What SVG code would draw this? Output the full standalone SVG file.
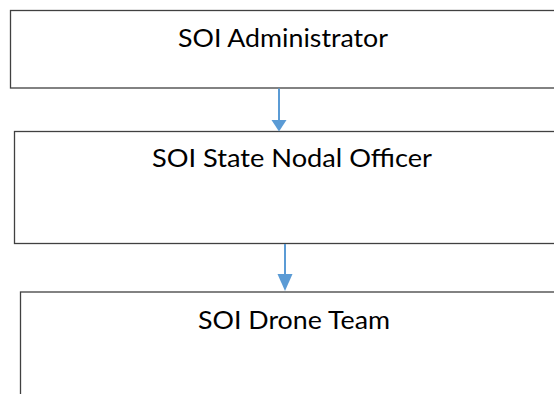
<svg xmlns="http://www.w3.org/2000/svg" width="554" height="394" viewBox="0 0 554 394">
<style>
.box{fill:#ffffff;stroke:#404040;stroke-width:1.3}
.lbl{font-family:Lato,"Open Sans","Liberation Sans",sans-serif;font-size:25px;fill:#000000;text-anchor:middle}
.conn{stroke:#5B9BD5;stroke-width:2;fill:none}
.head{fill:#5B9BD5}
</style>
<rect x="0" y="0" width="554" height="394" fill="#ffffff"/>
<g id="node-admin">
<rect class="box" x="10.5" y="10.5" width="560" height="77.5"/>
<text class="lbl" x="283" y="47" textLength="210" lengthAdjust="spacingAndGlyphs">SOI Administrator</text>
</g>
<g id="node-nodal">
<rect class="box" x="14.5" y="131.5" width="560" height="112"/>
<text class="lbl" x="292" y="167" textLength="280" lengthAdjust="spacingAndGlyphs">SOI State Nodal Officer</text>
</g>
<g id="node-drone">
<rect class="box" x="20.5" y="292" width="560" height="140"/>
<text class="lbl" x="294" y="329" textLength="192" lengthAdjust="spacingAndGlyphs">SOI Drone Team</text>
</g>
<g id="connectors">
<line class="conn" x1="279" y1="88.5" x2="279" y2="120"/>
<polygon class="head" points="271.5,120 286.5,120 279,131.5"/>
<line class="conn" x1="285" y1="244" x2="285" y2="274"/>
<polygon class="head" points="277.5,274 292.5,274 285,291"/>
</g>
</svg>
